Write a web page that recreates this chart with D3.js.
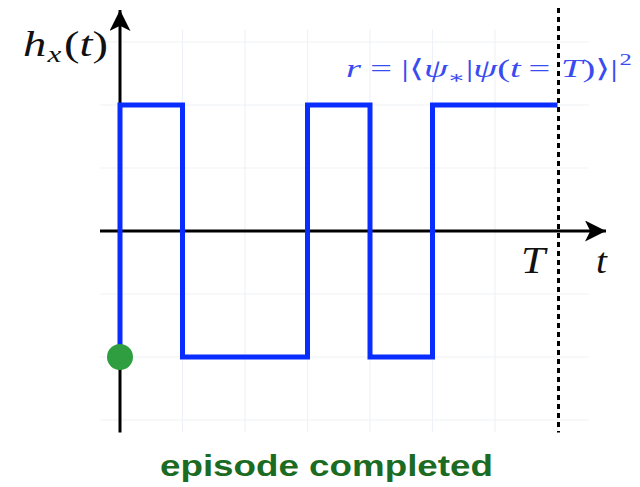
<!DOCTYPE html>
<html>
<head>
<meta charset="utf-8">
<script src="https://cdn.jsdelivr.net/npm/d3@7"></script>
<style>
  html, body { margin: 0; padding: 0; background: #fff; }
  svg { display: block; }
  .math { font-family: "Liberation Serif", "DejaVu Serif", serif; }
</style>
</head>
<body>
<svg id="chart" width="640" height="487"></svg>
<script>
// Bang-bang control protocol h_x(t): switching times and field value on each interval
const switchTimes = [0, 1, 3, 4, 5, 7];
const fieldValues = [2, -2, 2, -2, 2];
const initialValue = -2;
const episodeEnd = 7;
const gridX = [1, 2, 3, 4, 5, 6, 7];
const gridY = [-3, -2, -1, 1, 2, 3];

const svg = d3.select("#chart");
const x = d3.scaleLinear().domain([0, 7]).range([120, 557.5]);
const y = d3.scaleLinear().domain([-2, 2]).range([357, 105]);

// stretch a label horizontally so it spans the given width from its left edge
function fitWidth(sel, width) {
  const b = sel.node().getBBox();
  const k = width / b.width;
  sel.attr("transform", `translate(${b.x},0) scale(${k},1) translate(${-b.x},0)`);
}

// faint background grid
const grid = svg.append("g").attr("stroke", "#eef2f6").attr("stroke-width", 1.2);
grid.selectAll("line.v").data(gridX).join("line")
  .attr("x1", d => x(d)).attr("x2", d => x(d))
  .attr("y1", y(3.2)).attr("y2", y(-3.2));
grid.selectAll("line.h").data(gridY).join("line")
  .attr("x1", x(-0.32)).attr("x2", x(7.5))
  .attr("y1", d => y(d)).attr("y2", d => y(d));

// axes with arrow heads
const defs = svg.append("defs");
defs.append("marker")
  .attr("id", "arrow").attr("viewBox", "0 0 10 10")
  .attr("refX", 10).attr("refY", 5)
  .attr("markerWidth", 7).attr("markerHeight", 7)
  .attr("markerUnits", "strokeWidth")
  .attr("orient", "auto")
  .append("path").attr("d", "M0,0 L10,5 L0,10 L2.5,5 Z").attr("fill", "#000");

svg.append("line")
  .attr("x1", x(-0.32)).attr("x2", 606)
  .attr("y1", y(0)).attr("y2", y(0))
  .attr("stroke", "#000").attr("stroke-width", 3)
  .attr("marker-end", "url(#arrow)");
svg.append("line")
  .attr("x1", x(0)).attr("x2", x(0))
  .attr("y1", y(-3.2)).attr("y2", 10)
  .attr("stroke", "#000").attr("stroke-width", 3)
  .attr("marker-end", "url(#arrow)");

// end-of-episode marker
svg.append("line")
  .attr("x1", x(episodeEnd) + 1).attr("x2", x(episodeEnd) + 1)
  .attr("y1", 8).attr("y2", y(-3.2))
  .attr("stroke", "#000").attr("stroke-width", 3)
  .attr("stroke-dasharray", "5,4");

// step signal
const pts = [[switchTimes[0], initialValue]];
fieldValues.forEach((v, i) => pts.push([switchTimes[i], v]));
pts.push([switchTimes[switchTimes.length - 1], fieldValues[fieldValues.length - 1]]);
const line = d3.line().x(d => x(d[0])).y(d => y(d[1])).curve(d3.curveStepAfter);
svg.append("path")
  .attr("d", line(pts))
  .attr("fill", "none")
  .attr("stroke", "#0a2dff")
  .attr("stroke-width", 5)
  .attr("stroke-linejoin", "miter");

// initial state
svg.append("circle")
  .attr("cx", x(0)).attr("cy", y(initialValue))
  .attr("r", 13).attr("fill", "#2f9e40");

// labels
const hx = svg.append("text").attr("class", "math")
  .attr("x", 23).attr("y", 56).attr("font-size", 36).attr("fill", "#111");
hx.append("tspan").attr("font-style", "italic").text("h");
hx.append("tspan").attr("font-style", "italic").attr("font-size", 24).attr("dy", 6).attr("dx", 1).text("x");
hx.append("tspan").attr("dy", -6).attr("dx", 2).text("(");
hx.append("tspan").attr("font-style", "italic").text("t");
hx.append("tspan").text(")");
fitWidth(hx, 85);

const tCap = svg.append("text").attr("class", "math")
  .attr("x", 521).attr("y", 273).attr("font-size", 37)
  .attr("font-style", "italic").attr("fill", "#111").text("T");
fitWidth(tCap, 27);
const tLow = svg.append("text").attr("class", "math")
  .attr("x", 596).attr("y", 273).attr("font-size", 36)
  .attr("font-style", "italic").attr("fill", "#111").text("t");
fitWidth(tLow, 12);

const rw = svg.append("text").attr("class", "math")
  .attr("x", 346).attr("y", 77).attr("font-size", 25).attr("fill", "#3a4cf0");
rw.append("tspan").attr("font-style", "italic").text("r");
rw.append("tspan").attr("dx", 6).text("=");
rw.append("tspan").attr("dx", 6).text("|⟨");
rw.append("tspan").attr("font-style", "italic").text("ψ");
rw.append("tspan").attr("font-size", 17).attr("dy", 6).text("∗");
rw.append("tspan").attr("dy", -6).text("|");
rw.append("tspan").attr("font-style", "italic").text("ψ");
rw.append("tspan").text("(");
rw.append("tspan").attr("font-style", "italic").text("t");
rw.append("tspan").attr("dx", 5).text("=");
rw.append("tspan").attr("dx", 7).attr("font-style", "italic").text("T");
rw.append("tspan").text(")⟩|");
rw.append("tspan").attr("font-size", 16).attr("dy", -12).attr("dx", 1).text("2");
fitWidth(rw, 286);

const ep = svg.append("text")
  .attr("x", 160).attr("y", 476)
  .attr("font-family", "Liberation Sans, Arial, sans-serif")
  .attr("font-weight", "bold").attr("font-size", 30)
  .attr("fill", "#1b6b22")
  .text("episode completed");
fitWidth(ep, 333);
</script>
</body>
</html>
